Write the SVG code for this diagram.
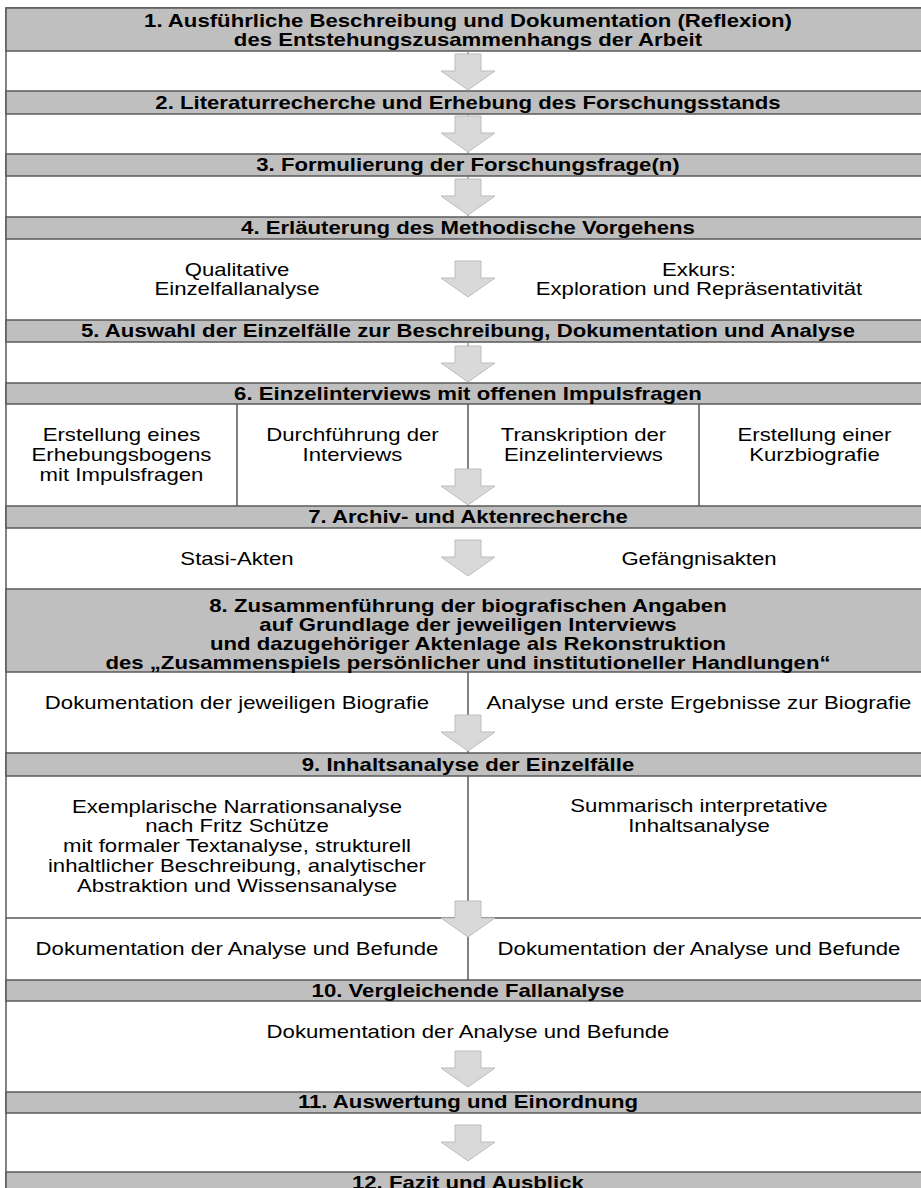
<svg xmlns="http://www.w3.org/2000/svg" width="921" height="1188" viewBox="0 0 921 1188">
<style>
.t{font-family:"Liberation Sans",Arial,Helvetica,sans-serif;font-size:17.6px;text-anchor:middle;fill:#000;transform-box:fill-box;transform-origin:center;transform:scaleX(1.26)}
.b{font-weight:bold}
.band{fill:#bfbfbf;stroke:#595959;stroke-width:1.5}
.cell{fill:#fff;stroke:#595959;stroke-width:1.5}
.div{stroke:#595959;stroke-width:1.5;fill:none}
.stub{stroke:#7f7f7f;stroke-width:1.2;fill:none}
.arr{fill:#d9d9d9;stroke:#bdbdbd;stroke-width:1}
</style>
<defs>
<path id="arrow" class="arr" d="M-13,0 h26 v17 h14 L0,36 L-27,17 h14 z"/>
</defs>
<rect x="6" y="8" width="924" height="1200" class="cell"/>
<g id="step1"><rect class="band" x="6" y="8" width="924" height="43"/>
<text class="t b" x="468" y="27">1. Ausführliche Beschreibung und Dokumentation (Reflexion)</text>
<text class="t b" x="468" y="46">des Entstehungszusammenhangs der Arbeit</text></g>
<g id="step2"><rect class="band" x="6" y="91" width="924" height="23"/>
<text class="t b" x="468" y="109">2. Literaturrecherche und Erhebung des Forschungsstands</text></g>
<g id="step3"><rect class="band" x="6" y="154" width="924" height="22"/>
<text class="t b" x="468" y="171">3. Formulierung der Forschungsfrage(n)</text></g>
<g id="step4"><rect class="band" x="6" y="217" width="924" height="22"/>
<text class="t b" x="468" y="234">4. Erläuterung des Methodische Vorgehens</text></g>
<g id="step4-body">
<text class="t" x="237" y="276">Qualitative</text><text class="t" x="237" y="295">Einzelfallanalyse</text>
<text class="t" x="699" y="276">Exkurs:</text><text class="t" x="699" y="295">Exploration und Repräsentativität</text></g>
<g id="step5"><rect class="band" x="6" y="320" width="924" height="22"/>
<text class="t b" x="468" y="337">5. Auswahl der Einzelfälle zur Beschreibung, Dokumentation und Analyse</text></g>
<g id="step6"><rect class="band" x="6" y="383" width="924" height="21"/>
<text class="t b" x="468" y="400">6. Einzelinterviews mit offenen Impulsfragen</text></g>
<g id="step6-body">
<line class="div" x1="237" y1="404" x2="237" y2="506"/>
<line class="div" x1="468" y1="404" x2="468" y2="506"/>
<line class="div" x1="699" y1="404" x2="699" y2="506"/>
<text class="t" x="121.5" y="441">Erstellung eines</text><text class="t" x="121.5" y="461">Erhebungsbogens</text><text class="t" x="121.5" y="481">mit Impulsfragen</text>
<text class="t" x="352.5" y="441">Durchführung der</text><text class="t" x="352.5" y="461">Interviews</text>
<text class="t" x="583.5" y="441">Transkription der</text><text class="t" x="583.5" y="461">Einzelinterviews</text>
<text class="t" x="814.5" y="441">Erstellung einer</text><text class="t" x="814.5" y="461">Kurzbiografie</text></g>
<g id="step7"><rect class="band" x="6" y="506" width="924" height="22"/>
<text class="t b" x="468" y="523">7. Archiv- und Aktenrecherche</text></g>
<g id="step7-body">
<text class="t" x="237" y="565">Stasi-Akten</text>
<text class="t" x="699" y="565">Gefängnisakten</text></g>
<g id="step8"><rect class="band" x="6" y="589" width="924" height="83"/>
<text class="t b" x="468" y="612">8. Zusammenführung der biografischen Angaben</text>
<text class="t b" x="468" y="631">auf Grundlage der jeweiligen Interviews</text>
<text class="t b" x="468" y="650">und dazugehöriger Aktenlage als Rekonstruktion</text>
<text class="t b" x="468" y="669">des „Zusammenspiels persönlicher und institutioneller Handlungen“</text></g>
<g id="step8-body">
<line class="div" x1="468" y1="672" x2="468" y2="753"/>
<text class="t" x="237" y="709">Dokumentation der jeweiligen Biografie</text>
<text class="t" x="699" y="709">Analyse und erste Ergebnisse zur Biografie</text></g>
<g id="step9"><rect class="band" x="6" y="753" width="924" height="23"/>
<text class="t b" x="468" y="771">9. Inhaltsanalyse der Einzelfälle</text></g>
<g id="step9-body">
<line class="div" x1="468" y1="776" x2="468" y2="980"/>
<line class="div" x1="6" y1="918" x2="930" y2="918"/>
<text class="t" x="237" y="813">Exemplarische Narrationsanalyse</text>
<text class="t" x="237" y="832">nach Fritz Schütze</text>
<text class="t" x="237" y="852">mit formaler Textanalyse, strukturell</text>
<text class="t" x="237" y="872">inhaltlicher Beschreibung, analytischer</text>
<text class="t" x="237" y="892">Abstraktion und Wissensanalyse</text>
<text class="t" x="699" y="812">Summarisch interpretative</text>
<text class="t" x="699" y="832">Inhaltsanalyse</text>
<text class="t" x="237" y="955">Dokumentation der Analyse und Befunde</text>
<text class="t" x="699" y="955">Dokumentation der Analyse und Befunde</text></g>
<g id="step10"><rect class="band" x="6" y="980" width="924" height="21"/>
<text class="t b" x="468" y="997">10. Vergleichende Fallanalyse</text></g>
<g id="step10-body">
<text class="t" x="468" y="1038">Dokumentation der Analyse und Befunde</text></g>
<g id="step11"><rect class="band" x="6" y="1092" width="924" height="21"/>
<text class="t b" x="468" y="1108">11. Auswertung und Einordnung</text></g>
<g id="step12"><rect class="band" x="6" y="1172" width="924" height="30"/>
<text class="t b" x="468" y="1189">12. Fazit und Ausblick</text></g>
<g id="connectors">
<line class="stub" x1="468" y1="51.8" x2="468" y2="90.2"/>
<line class="stub" x1="468" y1="114.8" x2="468" y2="153.2"/>
<line class="stub" x1="468" y1="176.8" x2="468" y2="216.2"/>
<line class="stub" x1="468" y1="342.8" x2="468" y2="382.2"/>
<use href="#arrow" transform="translate(468,54)"/>
<use href="#arrow" transform="translate(468,116)"/>
<use href="#arrow" transform="translate(468,179)"/>
<use href="#arrow" transform="translate(468,261)"/>
<use href="#arrow" transform="translate(468,346)"/>
<use href="#arrow" transform="translate(468,469)"/>
<use href="#arrow" transform="translate(468,540)"/>
<use href="#arrow" transform="translate(468,715)"/>
<use href="#arrow" transform="translate(468,901)"/>
<use href="#arrow" transform="translate(468,1051)"/>
<use href="#arrow" transform="translate(468,1125)"/>
</g>
</svg>
